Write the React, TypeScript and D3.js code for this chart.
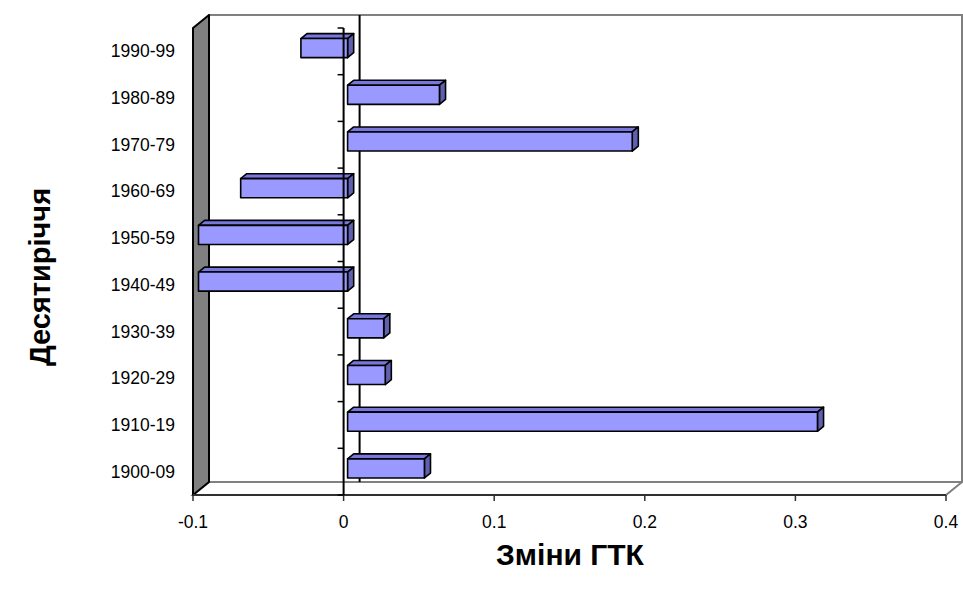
import React from "react";
import * as d3 from "d3";

const categories = ["1900-09", "1910-19", "1920-29", "1930-39", "1940-49", "1950-59", "1960-69", "1970-79", "1980-89", "1990-99"];
const values = [0.051, 0.312, 0.025, 0.024, -0.099, -0.099, -0.071, 0.189, 0.061, -0.031];
const xTicks = [-0.1, 0, 0.1, 0.2, 0.3, 0.4];
const xTickLabels = ["-0.1", "0", "0.1", "0.2", "0.3", "0.4"];
const xTitle = "Зміни ГТК";
const yTitle = "Десятиріччя";

const W = 963;
const H = 594;
const FONT = "Arial, 'Liberation Sans', sans-serif";

export default function App() {
  const x = d3.scaleLinear().domain([-0.1, 0.4]).range([193, 946]);
  const yTop = 28;
  const yBot = 495;
  const y = d3.scaleBand<string>().domain([...categories].reverse()).range([yTop, yBot]).paddingInner(0).paddingOuter(0);
  const DX = 16;
  const DY = -13;
  const z0 = 0.25;
  const z1 = 0.63;
  const barH = y.bandwidth() * 0.41;

  const p = (v: number, yy: number, z: number): [number, number] => [x(v) + DX * z, yy + DY * z];
  const poly = (pts: [number, number][]) => pts.map((q) => q.join(",")).join(" ");

  const x0 = x(0);
  const leftX = x(-0.1);
  const rightX = x(0.4);

  return (
    <svg width={W} height={H} style={{ position: "absolute", left: 0, top: 0, background: "#fff" }} fontFamily={FONT}>
      {/* back wall */}
      <rect x={leftX + DX} y={yTop + DY} width={rightX - leftX} height={yBot - yTop} fill="#fff" stroke="#808080" strokeWidth={2} />
      {/* floor */}
      <polygon points={poly([[leftX, yBot], [leftX + DX, yBot + DY], [rightX + DX, yBot + DY], [rightX, yBot]])} fill="#fff" stroke="#808080" strokeWidth={2} />
      {/* left wall */}
      <polygon points={poly([[leftX, yTop], [leftX + DX, yTop + DY], [leftX + DX, yBot + DY], [leftX, yBot]])} fill="#808080" stroke="#000" strokeWidth={2} strokeLinejoin="round" />
      {/* back zero line */}
      <line x1={x0 + DX} x2={x0 + DX} y1={yTop + DY} y2={yBot + DY} stroke="#000" strokeWidth={2} />
      {/* bars */}
      {categories.map((c, i) => {
        const v = values[i];
        const yc = (y(c) as number) + y.bandwidth() / 2;
        const t = yc - barH / 2;
        const b = yc + barH / 2;
        const lo = Math.min(0, v);
        const hi = Math.max(0, v);
        const front = [p(lo, t, z0), p(hi, t, z0), p(hi, b, z0), p(lo, b, z0)];
        const top = [p(lo, t, z0), p(lo, t, z1), p(hi, t, z1), p(hi, t, z0)];
        const side = [p(hi, t, z0), p(hi, t, z1), p(hi, b, z1), p(hi, b, z0)];
        return (
          <g key={c} stroke="#000" strokeWidth={1.6} strokeLinejoin="round">
            <polygon points={poly(top)} fill="#7777DD" />
            <polygon points={poly(side)} fill="#6060B0" />
            <polygon points={poly(front)} fill="#9999FF" />
          </g>
        );
      })}
      {/* front x axis */}
      <line x1={leftX} x2={rightX} y1={yBot} y2={yBot} stroke="#303030" strokeWidth={2} />
      {xTicks.map((t, i) => (
        <g key={t}>
          <line x1={x(t)} x2={x(t)} y1={yBot} y2={yBot + 6} stroke="#303030" strokeWidth={1.5} />
          <text x={x(t)} y={yBot + 27} fontSize={17.5} textAnchor="middle" dominantBaseline="central" fill="#000">
            {xTickLabels[i]}
          </text>
        </g>
      ))}
      {/* y axis at zero */}
      <line x1={x0} x2={x0} y1={yTop} y2={yBot} stroke="#000" strokeWidth={2} />
      {d3.range(categories.length + 1).map((k) => {
        const yy = yTop + k * y.bandwidth();
        return <line key={k} x1={x0 - 6} x2={x0} y1={yy} y2={yy} stroke="#000" strokeWidth={1.5} />;
      })}
      {categories.map((c) => (
        <text key={c} x={175} y={(y(c) as number) + y.bandwidth() / 2} fontSize={17.5} textAnchor="end" dominantBaseline="central" fill="#000">
          {c}
        </text>
      ))}
      {/* titles */}
      <text x={570} y={565} fontSize={30} fontWeight="bold" textAnchor="middle" fill="#000">
        {xTitle}
      </text>
      <text transform={`translate(50,277) rotate(-90)`} fontSize={29} fontWeight="bold" textAnchor="middle" fill="#000">
        {yTitle}
      </text>
    </svg>
  );
}
